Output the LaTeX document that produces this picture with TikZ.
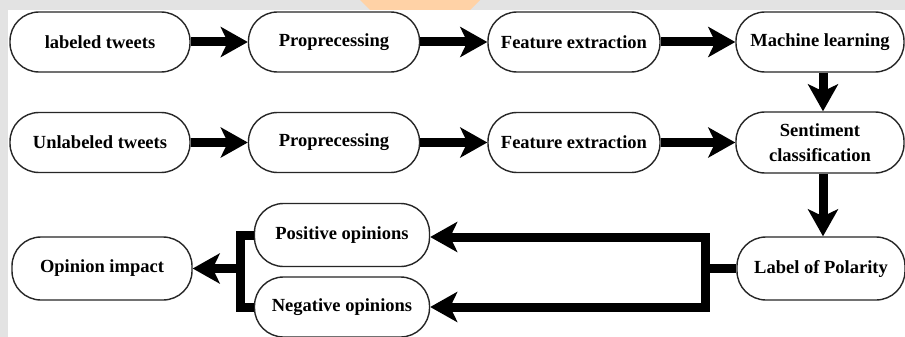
\documentclass[tikz,border=0pt]{standalone}
\usepackage{fontspec}
\setmainfont{Liberation Serif}
\usetikzlibrary{arrows.meta,calc}
\begin{document}
\begin{tikzpicture}[x=1pt,y=-1pt,
  box/.style={draw=black!85, line width=1.4pt, rounded corners=29pt, fill=white,
    minimum height=60pt, inner sep=0pt, align=center,
    font=\fontsize{18.5}{25}\selectfont\bfseries},
  conn/.style={line width=9pt, draw=black},
  arr/.style={conn, -{Stealth[length=27pt,width=30pt,inset=7pt]}}]
\useasboundingbox (0,0) rectangle (905,337);
\fill[white] (0,0) rectangle (905,337);
\fill[black!11] (0,0) rectangle (905,10);
\fill[black!11] (0,0) rectangle (8,337);
\fill[orange!35] (360,0) -- (480,0) -- (470,10) -- (370,10) -- cycle;
% row 1
\node[box, minimum width=180pt] (l1) at (100,42) {labeled tweets};
\node[box, minimum width=171pt] (p1) at (334,42) {Proprecessing};
\node[box, minimum width=172pt] (f1) at (574,42) {Feature extraction};
\node[box, minimum width=168pt] (m1) at (820,42) {Machine learning};
% row 2
\node[box, minimum width=180pt] (u2) at (100,142.5) {Unlabeled tweets};
\node[box, minimum width=171pt] (p2) at (334,142.5) {Proprecessing};
\node[box, minimum width=172pt] (f2) at (574,142.5) {Feature extraction};
\node[box, minimum width=168pt, minimum height=61pt] (sc) at (820,142.5) {Sentiment\\classification};
% row 3
\node[box, minimum width=168pt, minimum height=63pt] (lp) at (821,268.5) {Label of Polarity};
\node[box, minimum width=175pt, minimum height=63pt] (pos) at (342,235) {Positive opinions};
\node[box, minimum width=175pt] (neg) at (342,307) {Negative opinions};
\node[box, minimum width=180pt, minimum height=63pt] (oi) at (102,268.5) {Opinion impact};
% connectors
\draw[arr] (l1) -- (p1);
\draw[arr] (p1) -- (f1);
\draw[arr] (f1) -- (m1);
\draw[arr] (u2) -- (p2);
\draw[arr] (p2) -- (f2);
\draw[arr] (f2) -- (sc);
\draw[arr] ([xshift=3pt]m1.south) -- ([xshift=3pt]sc.north);
\draw[arr] ([xshift=3pt]sc.south) -- ([xshift=2pt]lp.north);
\coordinate (jr) at (705,268.5);
\coordinate (jl) at (240,268.5);
\draw[conn] (lp.west) -- (jr);
\draw[arr] (jr) |- ([yshift=-2pt]pos.east);
\draw[arr] (jr) |- (neg.east);
\draw[conn] (pos.west) -| (jl);
\draw[conn] (neg.west) -| (jl);
\draw[arr] (jl) -- (oi.east);
\end{tikzpicture}
\end{document}
